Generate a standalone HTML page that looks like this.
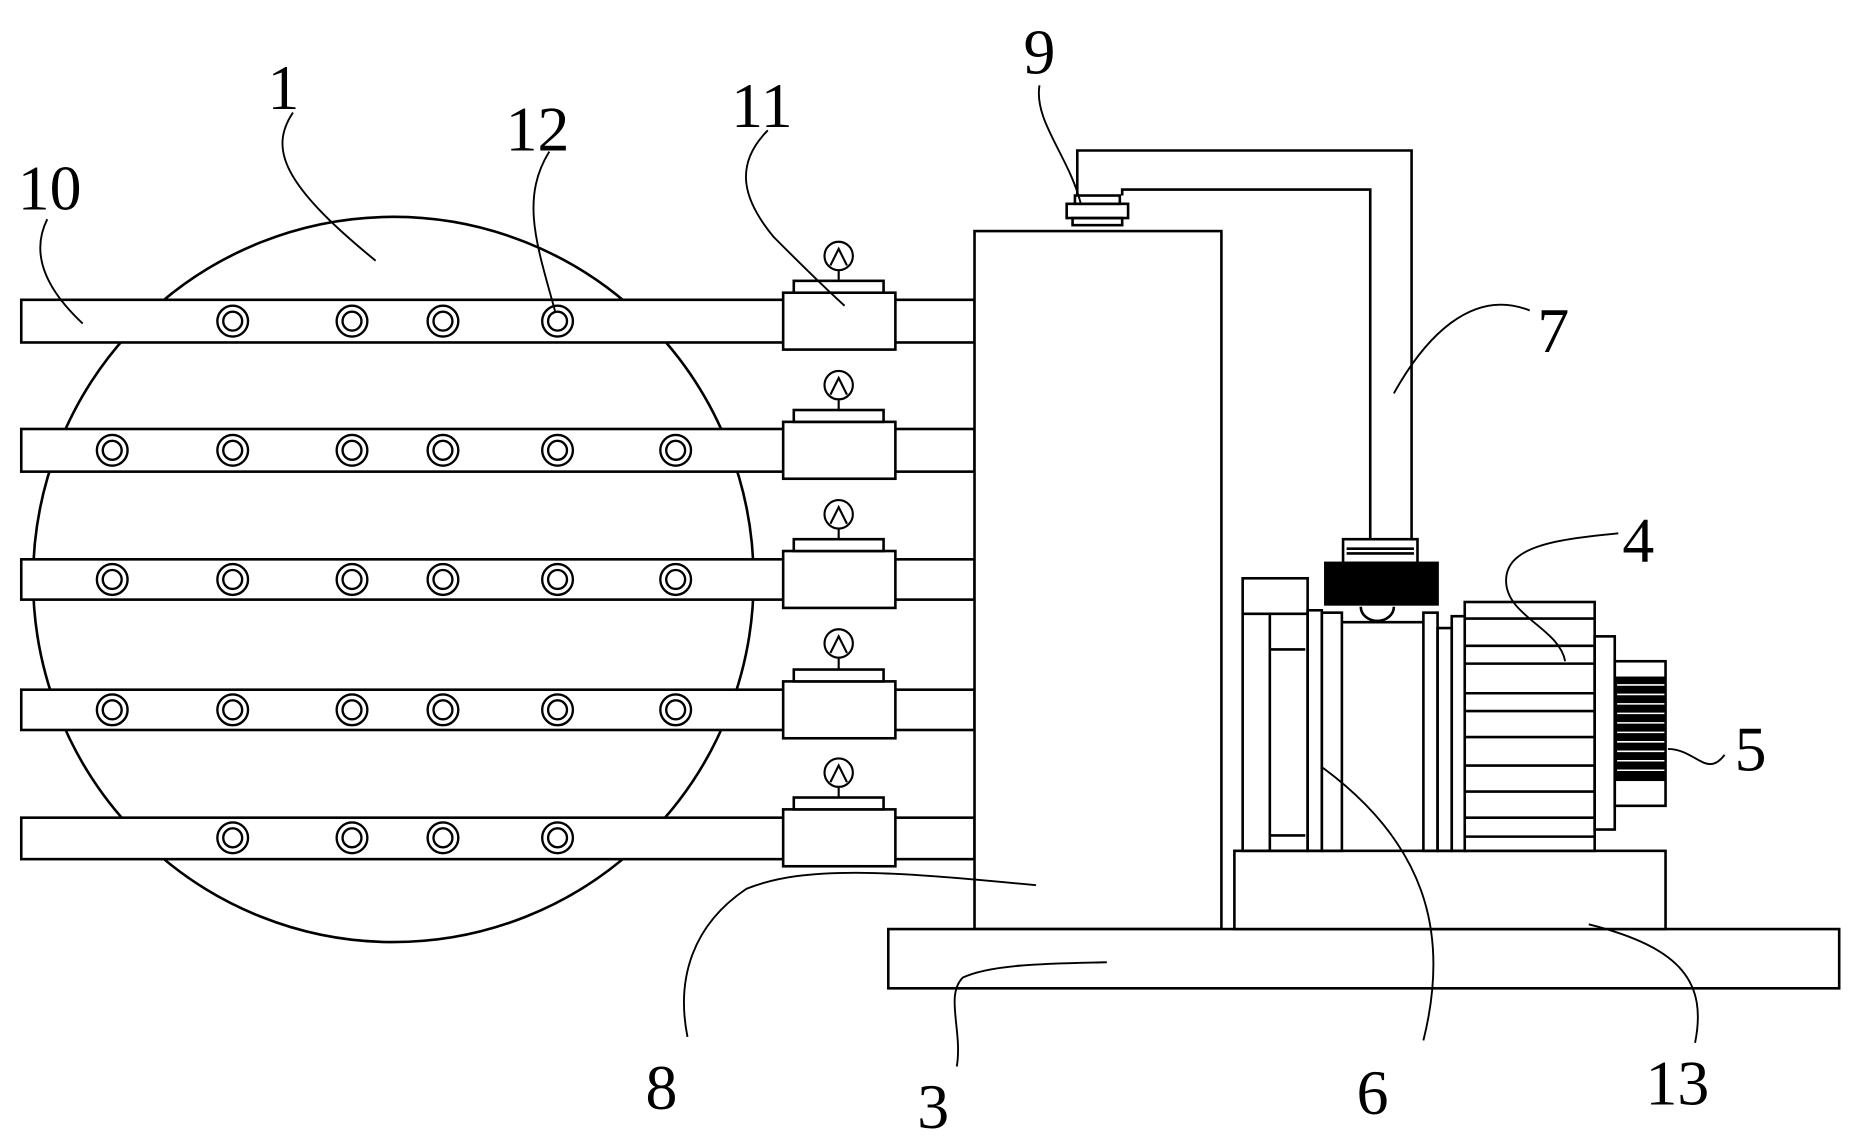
<!DOCTYPE html>
<html><head><meta charset="utf-8"><style>html,body{margin:0;padding:0;background:#fff}svg{display:block}</style></head>
<body>
<svg width="1851" height="1140" viewBox="0 0 1567 962" preserveAspectRatio="none" xmlns="http://www.w3.org/2000/svg">
<g fill="none" stroke="#000" stroke-width="2.2">
<ellipse cx="333" cy="489" rx="305" ry="306"/>
<!-- pipes -->
<g fill="#fff">
<rect x="18" y="253" width="807" height="36"/>
<rect x="18" y="362" width="807" height="36"/>
<rect x="18" y="472" width="807" height="34"/>
<rect x="18" y="582" width="807" height="34"/>
<rect x="18" y="690" width="807" height="35"/>
</g>
<!-- valves -->
<g fill="#fff">
<rect x="663" y="247" width="95" height="48"/><rect x="672" y="237" width="76" height="10"/>
<rect x="663" y="356" width="95" height="48"/><rect x="672" y="346" width="76" height="10"/>
<rect x="663" y="465" width="95" height="48"/><rect x="672" y="455" width="76" height="10"/>
<rect x="663" y="575" width="95" height="48"/><rect x="672" y="565" width="76" height="10"/>
<rect x="663" y="683" width="95" height="48"/><rect x="672" y="673" width="76" height="10"/>
</g>
<g stroke-width="1.8">
<circle cx="710" cy="216" r="12"/><circle cx="710" cy="325" r="12"/><circle cx="710" cy="434" r="12"/><circle cx="710" cy="543" r="12"/><circle cx="710" cy="652" r="12"/>
<path d="M710 228v9M710 337v9M710 446v9M710 555v10M710 664v9"/>
<path d="M703 224l7-14 7 14M703 333l7-14 7 14M703 442l7-14 7 14M703 551l7-14 7 14M703 660l7-14 7 14"/>
</g>
<!-- holes -->
<g stroke-width="2">
<g id="h1"><circle cx="197" cy="271" r="13"/><circle cx="197" cy="271" r="8"/><circle cx="298" cy="271" r="13"/><circle cx="298" cy="271" r="8"/><circle cx="375" cy="271" r="13"/><circle cx="375" cy="271" r="8"/><circle cx="472" cy="271" r="13"/><circle cx="472" cy="271" r="8"/></g>
<g id="h2"><circle cx="95" cy="380" r="13"/><circle cx="95" cy="380" r="8"/><circle cx="197" cy="380" r="13"/><circle cx="197" cy="380" r="8"/><circle cx="298" cy="380" r="13"/><circle cx="298" cy="380" r="8"/><circle cx="375" cy="380" r="13"/><circle cx="375" cy="380" r="8"/><circle cx="472" cy="380" r="13"/><circle cx="472" cy="380" r="8"/><circle cx="572" cy="380" r="13"/><circle cx="572" cy="380" r="8"/></g>
<use href="#h2" y="109"/><use href="#h2" y="219"/><use href="#h1" y="436"/>
</g>
<!-- tank & base -->
<rect x="825" y="195" width="209" height="589" fill="#fff"/>
<rect x="752" y="784" width="805" height="50" fill="#fff"/>
<rect x="1045" y="718" width="365" height="66" fill="#fff"/>
<!-- pipe 7 -->
<path d="M912 165V127H1195V455M950 165V160H1160V455"/>
<rect x="903" y="172" width="52" height="12" fill="#fff"/><rect x="910" y="165" width="38" height="7"/><rect x="908" y="184" width="42" height="6"/>
<!-- pump fitting -->
<rect x="1137" y="455" width="63" height="20" fill="#fff"/><path d="M1140 463h57M1140 467h57"/>
<rect x="1122" y="475" width="95" height="35" fill="#000"/>
<path d="M1152 512a14 12 0 0 0 28 0"/>
<!-- pump body -->
<rect x="1052" y="488" width="55" height="230"/><path d="M1052 518h55M1075 518v200M1075 705h30M1075 548h30"/>
<rect x="1107" y="515" width="12" height="203"/><rect x="1119" y="517" width="17" height="201"/><rect x="1205" y="517" width="12" height="201"/><rect x="1217" y="530" width="12" height="188"/><rect x="1229" y="520" width="12" height="198"/>
<path d="M1136 525h69"/>
<!-- motor -->
<rect x="1240" y="508" width="110" height="210" fill="#fff"/>
<path d="M1240 522h110M1240 545h110M1240 560h110M1240 585h110M1240 600h110M1240 622h110M1240 646h110M1240 668h110M1240 690h110M1240 706h110"/>
<rect x="1350" y="537" width="17" height="163"/>
<rect x="1367" y="558" width="43" height="122"/>
<rect x="1369" y="572" width="40" height="86" fill="#000"/>
<path d="M1369 578h40M1369 586h40M1369 594h40M1369 602h40M1369 610h40M1369 618h40M1369 626h40M1369 634h40M1369 642h40M1369 650h40" stroke="#fff" stroke-width="1.3"/>
<!-- leaders -->
<g stroke-width="1.6">
<path d="M880 72c-5 30 25 60 35 100"/>
<path d="M248 95c-20 30-10 60 70 125"/>
<path d="M465 128c-25 40-10 80 5 135"/>
<path d="M650 110c-30 30-20 60 5 90c20 20 40 40 60 58"/>
<path d="M40 185c-15 30 0 60 30 88"/>
<path d="M1295 262c-50-20-90 25-115 70"/>
<path d="M1370 450c-50 5-95 10-95 40c0 30 45 40 50 68"/>
<path d="M1460 637c-15 20-25-5-48-5"/>
<path d="M582 875c-10-50 5-95 50-125c50-20 120-15 245-3"/>
<path d="M810 900c5-30-10-60 5-75c25-12 80-12 122-13"/>
<path d="M1205 878c20-80 10-160-85-230"/>
<path d="M1435 880c10-50-10-80-90-100"/>
</g>
</g>
<g font-family="Liberation Serif, serif" font-size="54" fill="#000" text-anchor="middle">
<text x="880" y="62">9</text><text x="240" y="92">1</text><text x="455" y="127">12</text><text x="645" y="107">11</text><text x="42" y="177">10</text>
<text x="1315" y="297">7</text><text x="1387" y="474">4</text><text x="1482" y="650">5</text>
<text x="560" y="936">8</text><text x="790" y="952">3</text><text x="1162" y="940">6</text><text x="1420" y="932">13</text>
</g>
</svg>
</body></html>
